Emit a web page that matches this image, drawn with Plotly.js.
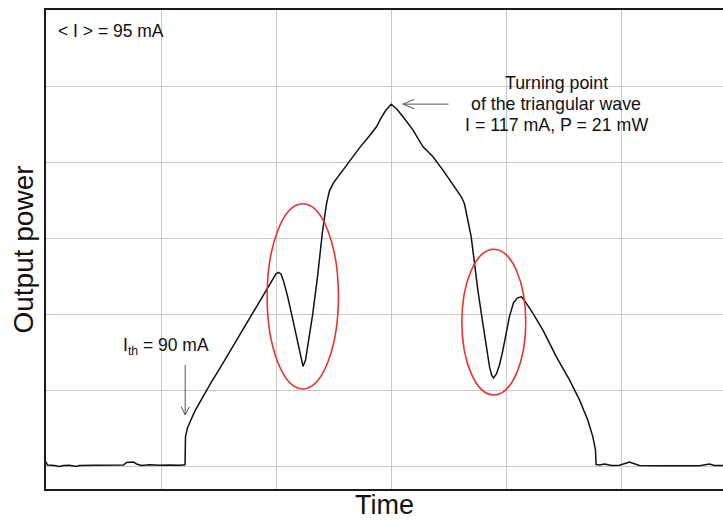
<!DOCTYPE html>
<html>
<head>
<meta charset="utf-8">
<script src="https://cdn.plot.ly/plotly-3.0.1.min.js"></script>
<style>html,body{margin:0;padding:0;background:#fff;}#chart{width:723px;height:520px;}</style>
</head>
<body>
<div id="chart"></div>
<script>
// Oscilloscope trace in screen divisions
var timeDiv = [0, 0.013, 0.074, 0.117, 0.152, 0.204, 0.265, 0.291, 0.422, 0.552, 0.674, 0.700, 0.761, 0.787, 0.830, 0.900, 0.987, 1.074, 1.161, 1.209,
  1.213, 1.230, 1.257, 1.291, 1.335, 1.387, 1.439, 1.509, 1.561, 1.613, 1.683, 1.770, 1.857, 1.926, 1.970, 2.000, 2.022,
  2.043, 2.065, 2.100, 2.143, 2.187, 2.213, 2.235, 2.257, 2.283, 2.317, 2.361, 2.404, 2.439, 2.465, 2.500, 2.552, 2.639, 2.726, 2.813, 2.874, 2.909, 2.952, 3.002,
  3.048, 3.103, 3.190, 3.277, 3.363, 3.450, 3.537, 3.610, 3.639, 3.665, 3.697, 3.726, 3.755, 3.798, 3.830, 3.857, 3.874, 3.891,
  3.917, 3.943, 3.970, 3.996, 4.030, 4.065, 4.100, 4.135, 4.176, 4.233, 4.320, 4.437, 4.552, 4.639, 4.711, 4.755, 4.778, 4.783,
  4.813, 4.857, 4.917, 4.987, 5.039, 5.074, 5.109, 5.161, 5.335, 5.509, 5.683, 5.770, 5.813, 5.887];
var powerDiv = [0.066, 0.026, 0.020, 0.007, 0.020, 0.022, 0.007, 0.020, 0.024, 0.022, 0.026, 0.059, 0.066, 0.039, 0.020, 0.029, 0.022, 0.026, 0.021, 0.029,
  0.395, 0.513, 0.618, 0.724, 0.842, 0.987, 1.118, 1.289, 1.421, 1.539, 1.724, 1.947, 2.171, 2.342, 2.461, 2.539, 2.559,
  2.539, 2.447, 2.250, 1.961, 1.645, 1.447, 1.322, 1.408, 1.645, 1.987, 2.500, 3.092, 3.461, 3.632, 3.737, 3.842, 4.026, 4.197, 4.355, 4.474, 4.579, 4.684, 4.770,
  4.711, 4.609, 4.434, 4.214, 4.083, 3.908, 3.711, 3.557, 3.461, 3.276, 3.030, 2.680, 2.329, 1.891, 1.553, 1.316, 1.211, 1.171,
  1.224, 1.342, 1.513, 1.724, 1.978, 2.158, 2.224, 2.237, 2.154, 2.022, 1.803, 1.451, 1.145, 0.882, 0.618, 0.399, 0.224, 0.033,
  0.026, 0.039, 0.020, 0.022, 0.053, 0.066, 0.046, 0.020, 0.016, 0.013, 0.017, 0.039, 0.020, 0.020];

var xTitle = "Time";
var yTitle = "Output power";
var meanLabel = "&lt; I &gt; = 95 mA";
var thresholdLabel = "I<sub>th</sub> = 90 mA";
var turningLabels = ["Turning point", "of the triangular wave", "I = 117 mA, P = 21 mW"];

var FONT = "Liberation Sans, Arial, Helvetica, sans-serif";
var ink = "#111111";
var arrowCol = "#555555";
var ringCol = "#e8352c";

var trace = {
  x: timeDiv, y: powerDiv, type: "scatter", mode: "lines",
  line: {color: ink, width: 1.5}, hoverinfo: "skip", showlegend: false
};

var turningY = [5.053, 4.776, 4.500];
var annotations = [
  {x: 0.083, y: 5.73, xref: "x", yref: "y", xanchor: "left", yanchor: "middle", text: meanLabel, showarrow: false, font: {family: FONT, size: 17.5, color: ink}},
  {x: 0.654, y: 1.59, xref: "x", yref: "y", xanchor: "left", yanchor: "middle", text: thresholdLabel, showarrow: false, font: {family: FONT, size: 17.5, color: ink}}
];
turningLabels.forEach(function (t, i) {
  annotations.push({x: 4.435, y: turningY[i], xref: "x", yref: "y", xanchor: "center", yanchor: "middle", text: t, showarrow: false, font: {family: FONT, size: 17.8, color: ink}});
});

var shapes = [
  {type: "circle", xref: "x", yref: "y", x0: 1.923, x1: 2.543, y0: 1.026, y1: 3.461, line: {color: ringCol, width: 1.6}},
  {type: "circle", xref: "x", yref: "y", x0: 3.616, x1: 4.172, y0: 0.947, y1: 2.864, line: {color: ringCol, width: 1.6}},
  // threshold arrow
  {type: "line", xref: "x", yref: "y", x0: 1.2104, x1: 1.2104, y0: 1.342, y1: 0.684, line: {color: arrowCol, width: 1}},
  {type: "path", xref: "x", yref: "y", path: "M 1.1757 0.793 L 1.2104 0.684 L 1.2478 0.793", line: {color: arrowCol, width: 1}},
  // turning point arrow
  {type: "line", xref: "x", yref: "y", x0: 3.500, x1: 3.103, y0: 4.772, y1: 4.772, line: {color: arrowCol, width: 1}},
  {type: "path", xref: "x", yref: "y", path: "M 3.204 4.836 L 3.103 4.772 L 3.204 4.711", line: {color: arrowCol, width: 1}}
];

var layout = {
  width: 723, height: 520,
  margin: {l: 46, r: 0, t: 10, b: 31, pad: 0},
  paper_bgcolor: "#ffffff", plot_bgcolor: "#ffffff",
  font: {family: FONT, color: ink},
  showlegend: false,
  xaxis: {
    range: [0, 5.887], tick0: 0, dtick: 1, showticklabels: false, ticks: "",
    showgrid: true, gridcolor: "#c8c8c8", gridwidth: 1, zeroline: false,
    showline: true, linecolor: "#1a1a1a", linewidth: 2, mirror: true,
    title: {text: xTitle, font: {family: FONT, size: 27, color: ink}, standoff: 9},
    fixedrange: true
  },
  yaxis: {
    range: [-0.29, 6.01], tick0: 0, dtick: 1, showticklabels: false, ticks: "",
    showgrid: true, gridcolor: "#c8c8c8", gridwidth: 1, zeroline: false,
    showline: true, linecolor: "#1a1a1a", linewidth: 2, mirror: false,
    title: {text: yTitle, font: {family: FONT, size: 28, color: ink}, standoff: 2},
    fixedrange: true
  },
  annotations: annotations,
  shapes: shapes
};

Plotly.newPlot("chart", [trace], layout, {displayModeBar: false, staticPlot: true});
</script>
</body>
</html>
